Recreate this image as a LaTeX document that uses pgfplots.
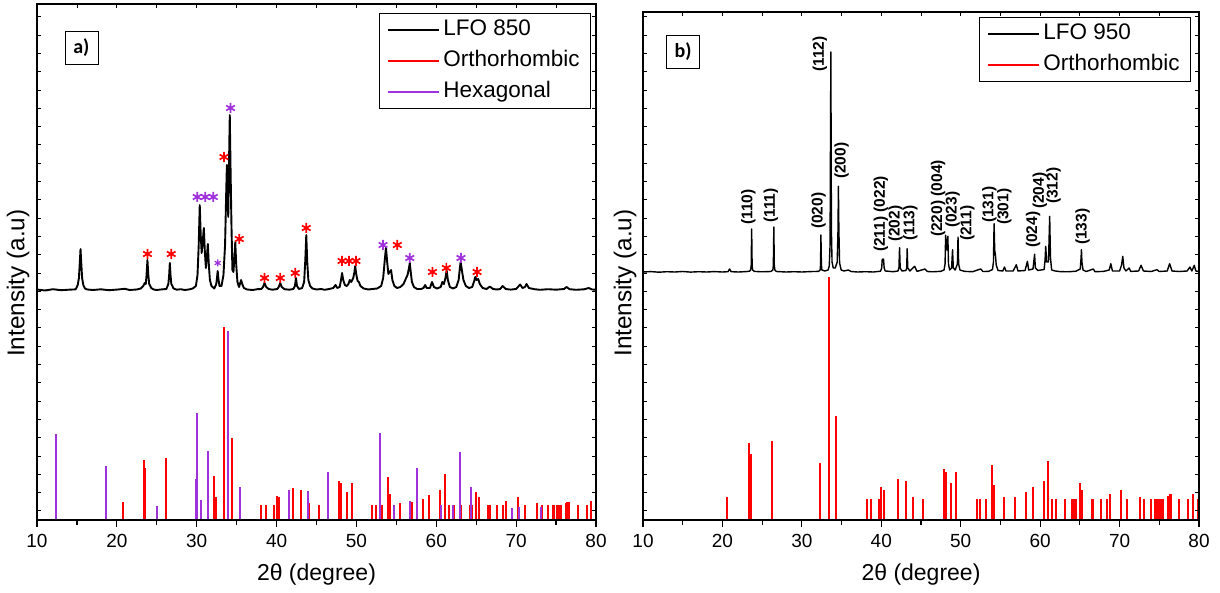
\documentclass[border=0pt]{standalone}
\usepackage{pgfplots}
\pgfplotsset{compat=1.18}
\usepackage{fontspec}
\setmainfont{Liberation Sans}
\newfontfamily\carlito{Carlito}
\definecolor{hexa}{RGB}{160,50,220}

\pgfplotsset{
  xrdbase/.style={
    scale only axis, xmin=10, xmax=80, ymin=0,
    clip=false,
    axis line style={line width=1.2pt},
    xtick={10,20,...,80}, minor xtick={15,25,...,75},
    xtick pos=left, ytick=\empty,
    tick align=outside,
    major tick length=7pt, minor tick length=4.5pt,
    every tick/.style={black, line width=1.2pt},
    tick label style={font=\fontsize{19}{22}\selectfont},
    /pgf/number format/assume math mode=true,
    xticklabel style={anchor=center, yshift=-14pt},
    xlabel style={font=\fontsize{23}{26}\selectfont},
    ylabel style={font=\fontsize{24.3}{27}\selectfont},
    xlabel={2θ (degree)},
    ylabel={Intensity (a.u)},
    legend image code/.code={\draw[#1] (0pt,0pt) -- (51pt,0pt);},
    legend cell align=left,
    legend style={draw=black, line width=0.8pt,
      font=\fontsize{22.5}{24}\selectfont,
      inner xsep=8pt, inner ysep=1pt, row sep=0pt,
      nodes={inner ysep=4.5pt, inner xsep=3pt, text height=17pt, text depth=5pt}},
  },
  xrdticks/.style={
    scale only axis, xmin=10, xmax=80, ymin=0,
    axis line style={line width=1.2pt},
    xtick={10,15,...,80}, xtick pos=right,
    ytick={9.15,27.45,...,510}, ytick pos=both,
    tick align=inside, major tick length=4pt,
    every tick/.style={black, line width=0.8pt},
    xticklabels={}, yticklabels={},
  },
  bars/.style={ycomb, line width=2pt, no marks},
  star/.style={only marks, mark=asterisk, mark size=5pt, line width=1.7pt, forget plot},
}
\tikzset{
  hkl/.style={rotate=90, anchor=west, inner sep=0pt, font=\bfseries\fontsize{15.5}{16}\selectfont},
  panel/.style={draw=black, line width=0.8pt, fill=white, minimum width=33pt, minimum height=33pt, inner sep=0pt, font=\carlito\bfseries\fontsize{20}{22}\selectfont},
}

\begin{document}
\begin{tikzpicture}[x=1pt,y=1pt]
\useasboundingbox (0,0) rectangle (1220,592);

% ---------------- panel a: LFO 850 ----------------
\begin{axis}[xrdbase, at={(37pt,72pt)}, anchor=south west,
  width=559pt, height=516pt, ymax=516,
  xlabel style={at={(axis description cs:0.5,-0.1066)}, anchor=center},
  ylabel style={at={(axis description cs:-0.034,0.459)}, anchor=center, inner sep=0pt},
  legend style={at={(rel axis cs:1,1)}, anchor=north east, xshift=-5pt, yshift=-9pt}]

\addplot[black, line width=1.9pt, line join=round] coordinates {
(10,230.5) (11,229.5) (12,230.8) (13,229.8) (14,230.3) (14.8,230.6)
(14.9,231.5) (15.1,235) (15.25,242) (15.35,256) (15.45,271) (15.55,256) (15.65,242) (15.8,235) (16.0,231.5) (16.3,230.5)
(17,230) (18,230.7) (19,229.8) (20,230.4) (21,231.2) (21.6,230) (22.5,230.5) (23.0,231.5)
(23.3,234) (23.5,237) (23.62,236) (23.72,245) (23.83,260) (23.94,245) (24.05,236) (24.3,232) (24.6,230.5)
(25,230) (25.6,230.6) (26.2,231)
(26.45,236) (26.55,245) (26.63,257) (26.72,245) (26.82,236) (27.1,231.5) (27.5,230.3) (28,230.8) (28.5,230) (29,230.5) (29.5,231.5) (29.9,234)
(30.1,245) (30.25,275) (30.38,315) (30.5,285) (30.62,267) (30.75,278) (30.89,292) (31.02,268) (31.15,252) (31.27,262) (31.39,276) (31.52,255) (31.65,240) (31.85,234) (32.2,231.5)
(32.45,236) (32.55,243) (32.63,249) (32.72,241) (32.85,234) (33.1,234) (33.35,245) (33.55,275) (33.7,330) (33.78,355) (33.87,320) (33.95,303) (34.05,360) (34.14,405) (34.24,350) (34.35,295) (34.47,250)
(34.6,248) (34.72,262) (34.83,278) (34.95,255) (35.1,238) (35.3,233) (35.45,237) (35.56,240) (35.7,236) (35.9,232) (36.3,230.5)
(37,230) (37.6,230.8) (38.1,231) (38.3,233) (38.49,237) (38.7,233) (39,231) (39.5,230.3) (40.1,231)
(40.3,233.5) (40.46,237) (40.65,233) (41,230.8) (41.6,230.3) (42.1,231)
(42.3,234) (42.43,242) (42.56,234) (42.8,231) (43.2,232) (43.45,238)
(43.6,260) (43.72,285) (43.84,258) (43.98,240) (44.2,234) (44.5,231.5) (45,230.5) (45.6,231) (46,230.2) (46.6,231) (47.1,232)
(47.38,235) (47.6,232) (47.9,233)
(48.05,239) (48.2,247) (48.35,240) (48.55,235) (48.8,234) (49.0,236) (49.17,240) (49.35,238) (49.6,242)
(49.75,248) (49.85,254) (49.97,246) (50.15,239) (50.31,238) (50.5,234) (50.9,231.5) (51.5,230.5) (52,231) (52.6,231.5) (53.1,234) (53.35,242)
(53.55,260) (53.7,272.5) (53.85,258) (54.0,246) (54.15,248) (54.34,250) (54.5,240) (54.75,234) (55.1,232) (55.5,233) (55.9,236) (56.17,241) (56.4,245)
(56.58,252) (56.68,257) (56.8,248) (56.95,238) (57.2,233) (57.6,231) (58.1,231) (58.4,232) (58.6,235) (58.8,232) (59.2,232) (59.47,238) (59.7,233) (60.1,231.5) (60.55,233) (60.76,238) (60.95,236) (61.15,242)
(61.3,249.5) (61.45,240) (61.7,233) (62.1,231.5) (62.5,233) (62.8,240) (62.95,252)
(63.05,258) (63.2,250) (63.4,240) (63.7,234) (64.1,232) (64.5,233) (64.75,239) (64.88,243) (65.05,240) (65.25,241) (65.45,236) (65.8,232) (66.3,231) (66.7,233.5) (67.1,231) (67.6,230.5) (68.0,231) (68.3,234) (68.7,231) (69.3,230.4) (70.0,231) (70.5,235.5) (70.8,232) (71.1,233) (71.3,236) (71.6,232) (72.3,230.8) (73,230.2) (74,230.8) (75,230.3) (76,231) (76.3,233) (76.7,230.8) (77.5,230.2) (78.5,230.7) (79.1,232) (79.5,230.5) (80,230.3)
};
\addlegendentry{LFO 850}

% orthorhombic reference lines
\addplot[bars, red] coordinates {
(20.72,17.8) (23.4,60.4) (23.56,51.8) (26.2,62.4) (32.2,44.5) (32.45,23.4) (33.4,193) (34.4,81.8)
(38.08,15.5) (38.63,15.5) (39.7,15.5) (40.0,24.4) (40.3,22.8) (42.1,31.7) (43.03,30) (44.08,17.5) (45.3,15.5)
(47.84,38.9) (48.1,37.3) (48.8,28.4) (49.44,37.3) (52.0,15.5) (52.46,15.5) (53.15,15.5) (53.93,42.6) (54.2,26.4)
(55.44,17.5) (56.9,17.8) (58.3,21.4) (59.1,24.7) (60.48,30.4) (61.1,46.2) (61.6,15.5) (62.2,15.5) (63.1,15.5)
(64.2,15.5) (64.5,15.5) (65.0,28.4) (65.3,22.8) (66.5,15.5) (66.7,15.5) (67.6,15.5) (68.4,15.5) (68.7,19.5)
(70.2,22.8) (71.1,15.5) (72.6,17.5) (73.2,15.5) (74.0,15.5) (74.6,15.5) (74.8,15.5) (75.1,15.5) (75.4,15.5)
(75.6,15.5) (76.2,17.5) (76.4,18.5) (76.6,18.5) (77.7,15.5) (78.9,15.5) (79.4,19.1) (79.95,15.5)
};
\addlegendentry{Orthorhombic}

% hexagonal reference lines
\addplot[bars, hexa] coordinates {
(12.43,86.4) (18.7,54.4) (25.0,13.9) (29.88,40.9) (30.02,106.9) (30.5,20.5) (31.4,69.3) (33.87,189.4)
(35.47,32.7) (41.56,30.4) (43.95,29.4) (46.4,48.5) (53.0,86.8) (54.66,15.5) (56.7,19.5) (57.55,52.1)
(60.6,15.5) (62.1,15.5) (63.0,68.3) (64.4,32.7) (69.5,12.2) (70.3,12.9) (73.1,12.9)
};
\addlegendentry{Hexagonal}

% phase markers above the peaks
\addplot[star, red] coordinates {
(23.83,266) (26.81,266) (33.41,363) (35.33,281) (38.49,242) (40.46,242) (42.34,247) (43.72,292)
(48.2,259) (49.07,259) (49.94,259) (55.12,275) (59.52,248) (61.26,252) (65.11,248)
};
\addplot[star, hexa] coordinates {
(30.06,323) (31.07,323) (32.08,323) (34.23,412) (53.33,275) (56.68,262) (63.09,262)
};
\addplot[star, hexa, mark size=3.5pt, line width=1.2pt] coordinates {(32.63,257)};

\node[panel] at (axis cs:15.56,472.5) {a)};
\end{axis}
\begin{axis}[xrdticks, at={(37pt,72pt)}, anchor=south west,
  width=559pt, height=516pt, ymax=516]
\end{axis}

% ---------------- panel b: LFO 950 ----------------
\begin{axis}[xrdbase, at={(643pt,72pt)}, anchor=south west,
  width=556pt, height=508pt, ymax=508,
  xlabel style={at={(axis description cs:0.5,-0.108)}, anchor=center},
  ylabel style={at={(axis description cs:-0.0324,0.4665)}, anchor=center, inner sep=0pt},
  legend style={at={(rel axis cs:1,1)}, anchor=north east, xshift=-8pt, yshift=-5pt}]

\addplot[black, line width=1.4pt, line join=round] coordinates {
(10,248) (11,248.4) (12,247.8) (13,248.3) (14,248) (15,248.5) (16,247.9) (17,248.3) (18,248) (19,248.4) (20,248) (20.7,248.3)
(20.9,251) (21.1,248.3) (22,248) (23,248.4) (23.4,248.8)
(23.55,250) (23.62,254) (23.68,291) (23.74,254) (23.81,250) (24.0,248.6)
(25,248.2) (26.1,248.5)
(26.35,250) (26.41,255) (26.47,293) (26.53,255) (26.6,250) (26.8,248.5)
(28,248) (29,248.3) (30,248) (31,248.4) (32.1,248.6)
(32.3,250) (32.35,255) (32.4,285) (32.46,255) (32.52,250)
(32.9,249) (33.3,250) (33.45,254) (33.55,275) (33.65,468) (33.72,290) (33.8,258) (33.95,252) (34.2,252) (34.45,258) (34.55,290) (34.6,333.7) (34.66,290) (34.75,257) (34.95,250) (35.3,249) (35.85,250) (36.2,248.5)
(37,248) (38,248.3) (39,248) (39.9,248.8)
(40.05,252) (40.12,261) (40.2,258) (40.28,261) (40.36,252) (40.5,249)
(41.5,248.3) (42.1,249)
(42.22,252) (42.3,272.3) (42.38,252) (42.6,249) (43.1,249.5)
(43.2,252) (43.26,271.3) (43.33,252) (43.6,249)
(44.2,253.7) (44.5,248.6) (45.5,251) (45.8,248.5) (46.5,248.2) (47.5,248.7) (47.9,250)
(48.03,256) (48.1,284.7) (48.2,275) (48.28,270) (48.38,283.7) (48.46,256) (48.6,250) (48.85,252) (48.97,270.3) (49.07,252) (49.3,250) (49.58,256) (49.66,283) (49.74,256) (49.9,250)
(50.5,248.6) (51.5,248.3) (52.5,251) (52.8,248.5) (53.5,248.6) (54.0,250.5)
(54.12,258) (54.2,296.3) (54.28,270) (54.37,264.7) (54.47,255) (54.7,249.5) (55.3,249) (55.5,253) (55.7,249) (56.6,249) (57.0,255.3) (57.2,249)
(58.1,249.5) (58.4,258.7) (58.55,250) (59.1,251) (59.3,265.7) (59.4,252) (59.7,249.5) (60.5,250.5) (60.62,260) (60.7,273.7) (60.82,258) (61.05,258) (61.2,303.7) (61.3,262) (61.45,250) (61.9,249)
(62.5,248.4) (63.5,248.2) (64.5,248.8) (65.05,251) (65.15,262) (65.2,270.3) (65.26,258) (65.4,250) (65.8,248.5) (66.7,251) (66.9,248.3)
(68,248.6) (68.7,250) (68.9,256.3) (69.1,249) (70,249) (70.25,255) (70.4,263.7) (70.55,252) (70.8,249) (71.2,252) (71.4,248.6)
(72.4,249) (72.7,254.7) (73,249) (74,248.5) (74.7,250.3) (75,248.5) (76,249) (76.3,256.3) (76.6,249) (77.5,248.5) (78.5,249) (78.85,253) (79.1,249) (79.4,254.7) (79.6,249) (80,248.5)
};
\addlegendentry{LFO 950}

\addplot[bars, red] coordinates {
(20.6,23.4) (23.4,77.4) (23.6,66.1) (26.25,79.4) (32.24,57.1) (33.39,243) (34.35,104.1)
(38.15,21.4) (38.65,21.4) (39.7,21.4) (39.98,32.7) (40.3,30) (42.08,41.4) (43.09,39.4) (44.0,23.4) (45.29,21.4)
(47.85,50.7) (48.12,48.4) (48.8,37.4) (49.45,48.4) (52.0,21.4) (52.47,21.4) (53.16,21.4) (53.89,55.1) (54.16,35)
(55.45,23.4) (56.82,23.4) (58.24,28.4) (59.15,32.7) (60.48,39.4) (61.03,59.4) (61.49,21.4) (62.04,21.4) (63.14,21.4)
(64.0,21.4) (64.28,21.4) (64.5,21.4) (65.0,37.4) (65.24,30) (66.5,21.4) (66.7,21.4) (67.6,21.4) (68.4,21.4) (68.76,25.7)
(70.23,30) (70.96,21.4) (72.56,23.4) (73.1,21.4) (73.9,21.4) (74.5,21.4) (74.73,21.4) (74.96,21.4) (75.2,21.4) (75.42,21.4)
(76.1,24) (76.3,25.7) (76.45,25.7) (77.5,21.4) (78.65,21.4) (79.2,25.7) (79.93,21.4)
};
\addlegendentry{Orthorhombic}

% Miller indices of the orthorhombic reflections
\node[hkl] at (axis cs:23.27,295) {(110)};
\node[hkl] at (axis cs:26.1,297) {(111)};
\node[hkl] at (axis cs:32.1,291) {(020)};
\node[hkl] at (axis cs:32.28,448) {(112)};
\node[hkl] at (axis cs:35.02,341) {(200)};
\node[hkl] at (axis cs:39.96,268) {(211) (022)};
\node[hkl] at (axis cs:41.8,278) {(202)};
\node[hkl] at (axis cs:43.67,279) {(113)};
\node[hkl] at (axis cs:47.15,283) {(220) (004)};
\node[hkl] at (axis cs:48.98,292) {(023)};
\node[hkl] at (axis cs:50.85,279) {(211)};
\node[hkl] at (axis cs:53.6,297) {(131)};
\node[hkl] at (axis cs:55.5,295) {(301)};
\node[hkl] at (axis cs:59.1,272) {(024)};
\node[hkl] at (axis cs:59.95,311) {(204)};
\node[hkl] at (axis cs:61.7,316) {(312)};
\node[hkl] at (axis cs:65.35,275) {(133)};

\node[panel] at (axis cs:15.05,468.5) {b)};
\end{axis}
\begin{axis}[xrdticks, at={(643pt,72pt)}, anchor=south west,
  width=556pt, height=508pt, ymax=508]
\end{axis}
\end{tikzpicture}
\end{document}
